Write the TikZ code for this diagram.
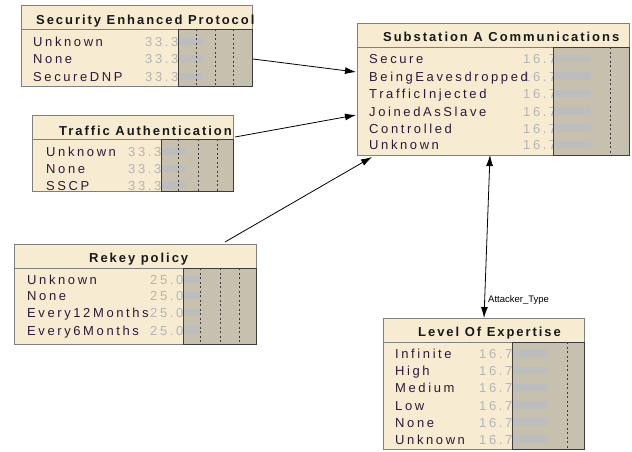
\documentclass[tikz,border=0pt]{standalone}
\usepackage{fontspec}
\setmainfont{Liberation Sans}
\newfontfamily\lsfont[LetterSpace=15]{Liberation Sans}
\newfontfamily\lbfont[LetterSpace=20]{Liberation Sans}
\usetikzlibrary{arrows.meta}
\definecolor{cream}{HTML}{F7ECD2}
\definecolor{graybg}{HTML}{C8C0AE}
\definecolor{barc}{HTML}{BDBDBD}
\definecolor{valc}{HTML}{B4B4B4}
\definecolor{labc}{HTML}{2A1A3A}
\definecolor{edgec}{HTML}{808080}
\definecolor{dkedge}{HTML}{3C3C3C}
\begin{document}
\begin{tikzpicture}[x=1pt,y=-1pt,
  boxst/.style={draw=edgec, fill=cream, line width=0.9pt, inner sep=0, outer sep=0, anchor=north west},
  grayst/.style={fill=graybg, draw=none, inner sep=0, outer sep=0, anchor=north west},
  grayedge/.style={draw=dkedge, line width=0.9pt},
  titlest/.style={anchor=base west, inner sep=0, font=\lsfont\bfseries\fontsize{13}{15}\selectfont, text=black!90},
  labst/.style={anchor=base west, inner sep=0, font=\lbfont\fontsize{13}{15}\selectfont, text=labc},
  valst/.style={anchor=base west, inner sep=0, font=\lbfont\fontsize{13}{15}\selectfont, text=valc},
  dotst/.style={draw=dkedge, line width=1pt, dash pattern=on 2pt off 2.5pt},
  sepst/.style={draw=edgec, line width=0.9pt},
  arr/.style={-{Latex[length=11pt,width=7pt]}, line width=0.8pt},
  darr/.style={{Latex[length=11pt,width=7pt]}-{Latex[length=11pt,width=7pt]}, line width=0.8pt}]
\useasboundingbox (0,0) rectangle (632,451);
\fill[white] (0,0) rectangle (632,451);

% ---- Security Enhanced Protocol
\node[boxst, minimum width=231, minimum height=81] (sec) at (21,5) {};
\draw[sepst] (21,29) -- (252,29);
\node[titlest] (sect) at (36,24) {Security Enhanced Protocol};
\foreach \b/\t [count=\i] in {46.5/Unknown, 63.5/None, 81.5/SecureDNP} {
  \node[valst] (secv\i) at (145,\b) {33.3};
  \node[labst] (secl\i) at (33,\b) {\t};
}
\node[grayst, minimum width=74, minimum height=57] (secg) at (178,29) {};
\foreach \b in {46.5,63.5,81.5} \fill[barc] (178,{\b-9}) rectangle (203,{\b-1.5});
\foreach \x in {196,215,233} \draw[dotst] (\x,29) -- (\x,86);
\draw[grayedge] (secg.north west) rectangle (secg.south east);

% ---- Substation A Communications
\node[boxst, minimum width=272, minimum height=132] (sub) at (357,23) {};
\draw[sepst] (357,47) -- (629,47);
\node[titlest] (subt) at (383,41.5) {Substation A Communications};
\foreach \b/\t [count=\i] in {63.5/Secure, 81/BeingEavesdropped, 98.5/TrafficInjected, 116/JoinedAsSlave, 133/Controlled, 149.5/Unknown} {
  \node[valst] (subv\i) at (523,\b) {16.7};
  \node[labst] (subl\i) at (369,\b) {\t};
}
\node[grayst, minimum width=76, minimum height=108] (subg) at (553,47) {};
\foreach \b in {63.5,81,98.5,116,133,149.5} \fill[barc] (553,{\b-9}) rectangle (591,{\b-1.5});
\draw[dotst] (610,47) -- (610,155);
\draw[grayedge] (subg.north west) rectangle (subg.south east);

% ---- Traffic Authentication
\node[boxst, minimum width=201, minimum height=76] (ta) at (32,115) {};
\draw[sepst] (32,139) -- (233,139);
\node[titlest] (tat) at (59,135) {Traffic Authentication};
\foreach \b/\t [count=\i] in {156.5/Unknown, 173.5/None, 190/SSCP} {
  \node[valst] (tav\i) at (128,\b) {33.3};
  \node[labst] (tal\i) at (46,\b) {\t};
}
\node[grayst, minimum width=72, minimum height=52] (tag) at (161,139) {};
\foreach \b in {156.5,173.5,190} \fill[barc] (161,{\b-9}) rectangle (186,{\b-1.5});
\foreach \x in {178,198,217} \draw[dotst] (\x,139) -- (\x,191);
\draw[grayedge] (tag.north west) rectangle (tag.south east);

% ---- Rekey policy
\node[boxst, minimum width=242, minimum height=100] (rk) at (14,244) {};
\draw[sepst] (14,268) -- (256,268);
\node[titlest] (rkt) at (89,262.5) {Rekey policy};
\foreach \b/\t [count=\i] in {284.5/Unknown, 300.5/None, 317.5/Every12Months, 335/Every6Months} {
  \node[valst] (rkv\i) at (150,\b) {25.0};
  \node[labst] (rkl\i) at (27,\b) {\t};
}
\node[grayst, minimum width=73, minimum height=76] (rkg) at (183,268) {};
\foreach \b in {284.5,300.5,317.5,335} \fill[barc] (183,{\b-9}) rectangle (200,{\b-1.5});
\foreach \x in {200,220,239} \draw[dotst] (\x,268) -- (\x,344);
\draw[grayedge] (rkg.north west) rectangle (rkg.south east);

% ---- Level Of Expertise
\node[boxst, minimum width=201, minimum height=131] (le) at (383,318) {};
\draw[sepst] (383,342) -- (584,342);
\node[titlest] (let) at (418,336.5) {Level Of Expertise};
\foreach \b/\t [count=\i] in {358/Infinite, 375.5/High, 392.5/Medium, 410/Low, 427/None, 444/Unknown} {
  \node[valst] (lev\i) at (479,\b) {16.7};
  \node[labst] (lel\i) at (395,\b) {\t};
}
\node[grayst, minimum width=72, minimum height=107] (leg) at (512,342) {};
\foreach \b in {358,375.5,392.5,410,427,444} \fill[barc] (512,{\b-9}) rectangle (548,{\b-1.5});
\draw[dotst] (567,342) -- (567,449);
\draw[grayedge] (leg.north west) rectangle (leg.south east);

% ---- connectors
\coordinate (a1s) at (253,59);  \coordinate (a1e) at (356,72);
\coordinate (a2s) at (235,137); \coordinate (a2e) at (356,115);
\coordinate (a3s) at (225,242); \coordinate (a3e) at (372,157);
\coordinate (a4s) at (490,155); \coordinate (a4e) at (484,318);
\draw[arr] (a1s) -- (a1e);
\draw[arr] (a2s) -- (a2e);
\draw[arr] (a3s) -- (a3e);
\draw[darr] (a4s) -- (a4e);
\node[anchor=west, inner sep=0, font=\fontsize{9.5}{11}\selectfont] (atl) at (488,300) {Attacker\_Type};
\end{tikzpicture}
\end{document}
